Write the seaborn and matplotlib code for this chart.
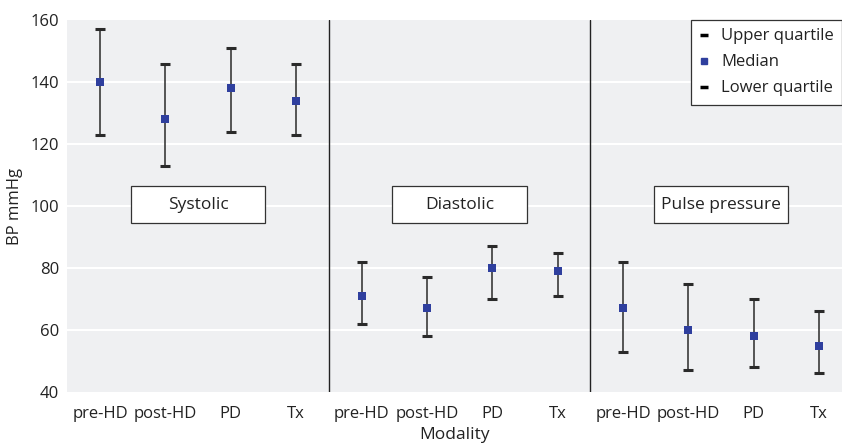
import numpy as np
import pandas as pd
import matplotlib
matplotlib.use("Agg")
import matplotlib.pyplot as plt
import seaborn as sns
from matplotlib.lines import Line2D
from matplotlib.patches import Rectangle

# data
groups = ['Systolic', 'Diastolic', 'Pulse pressure']
modalities = ['pre-HD', 'post-HD', 'PD', 'Tx']
lower_q = [123, 113, 124, 123, 62, 58, 70, 71, 53, 47, 48, 46]
median = [140, 128, 138, 134, 71, 67, 80, 79, 67, 60, 58, 55]
upper_q = [157, 146, 151, 146, 82, 77, 87, 85, 82, 75, 70, 66]

df = pd.DataFrame({
    'group': np.repeat(groups, len(modalities)),
    'modality': modalities * len(groups),
    'low': lower_q, 'med': median, 'high': upper_q,
})
df['pos'] = np.arange(len(df))

sns.set_theme(style='white')
plt.rcParams['font.family'] = ['Open Sans', 'DejaVu Sans']

fig, ax = plt.subplots(figsize=(8.42, 4.48), dpi=100)
ax.set_facecolor('#eff0f2')

for y in [60, 80, 100, 120, 140]:
    ax.axhline(y, color='white', lw=1.5, zorder=0)

ax.errorbar(df['pos'], df['med'],
            yerr=[df['med'] - df['low'], df['high'] - df['med']],
            fmt='none', ecolor='#2a2a2a', elinewidth=1.1, capsize=3.5, capthick=2.2, zorder=2)
sns.scatterplot(data=df, x='pos', y='med', marker='s', s=26, color='#2f3f9e',
                edgecolor='#2f3f9e', linewidth=0, ax=ax, zorder=3, legend=False)

for xd in [3.5, 7.5]:
    ax.axvline(xd, color='#222222', lw=1, zorder=1)

# group labels in boxes
for i, g in enumerate(groups):
    cx = 1.5 + 4 * i
    ax.add_patch(Rectangle((cx - 1.03, 94.6), 2.06, 11.9, fc='white', ec='#333333',
                           lw=0.9, zorder=4))
    ax.text(cx, 100.3, g, ha='center', va='center', fontsize=12.5,
            color='#222222', zorder=5)

ax.set_xlim(-0.5, 11.35)
ax.set_ylim(40, 160)
ax.set_yticks([40, 60, 80, 100, 120, 140, 160])
ax.set_xticks(df['pos'])
ax.set_xticklabels(df['modality'])
ax.tick_params(axis='both', length=0, labelsize=12, colors='#222222')
ax.tick_params(axis='y', pad=6)
ax.tick_params(axis='x', pad=10)
ax.set_ylabel('BP mmHg', fontsize=12, color='#222222', labelpad=5)
ax.set_xlabel('Modality', fontsize=12.5, color='#222222', labelpad=4)
for s in ax.spines.values():
    s.set_visible(False)

handles = [
    Line2D([], [], color='black', marker='_', ls='none', markersize=6, mew=2.5),
    Line2D([], [], color='#2f3f9e', marker='s', ls='none', markersize=4.5),
    Line2D([], [], color='black', marker='_', ls='none', markersize=6, mew=2.5),
]
leg = ax.legend(handles, ['Upper quartile', 'Median', 'Lower quartile'],
                loc='upper right', bbox_to_anchor=(1.0, 1.0), fontsize=12,
                frameon=True, fancybox=False, handlelength=0.6, handletextpad=0.7,
                borderpad=0.5, labelspacing=0.6, borderaxespad=0)
leg.get_frame().set_edgecolor('#333333')
leg.get_frame().set_linewidth(0.9)
leg.get_frame().set_alpha(1)
for t in leg.get_texts():
    t.set_color('#222222')

plt.subplots_adjust(left=0.08, right=1.0, top=0.955, bottom=0.125)
plt.savefig('out.png', dpi=100)
